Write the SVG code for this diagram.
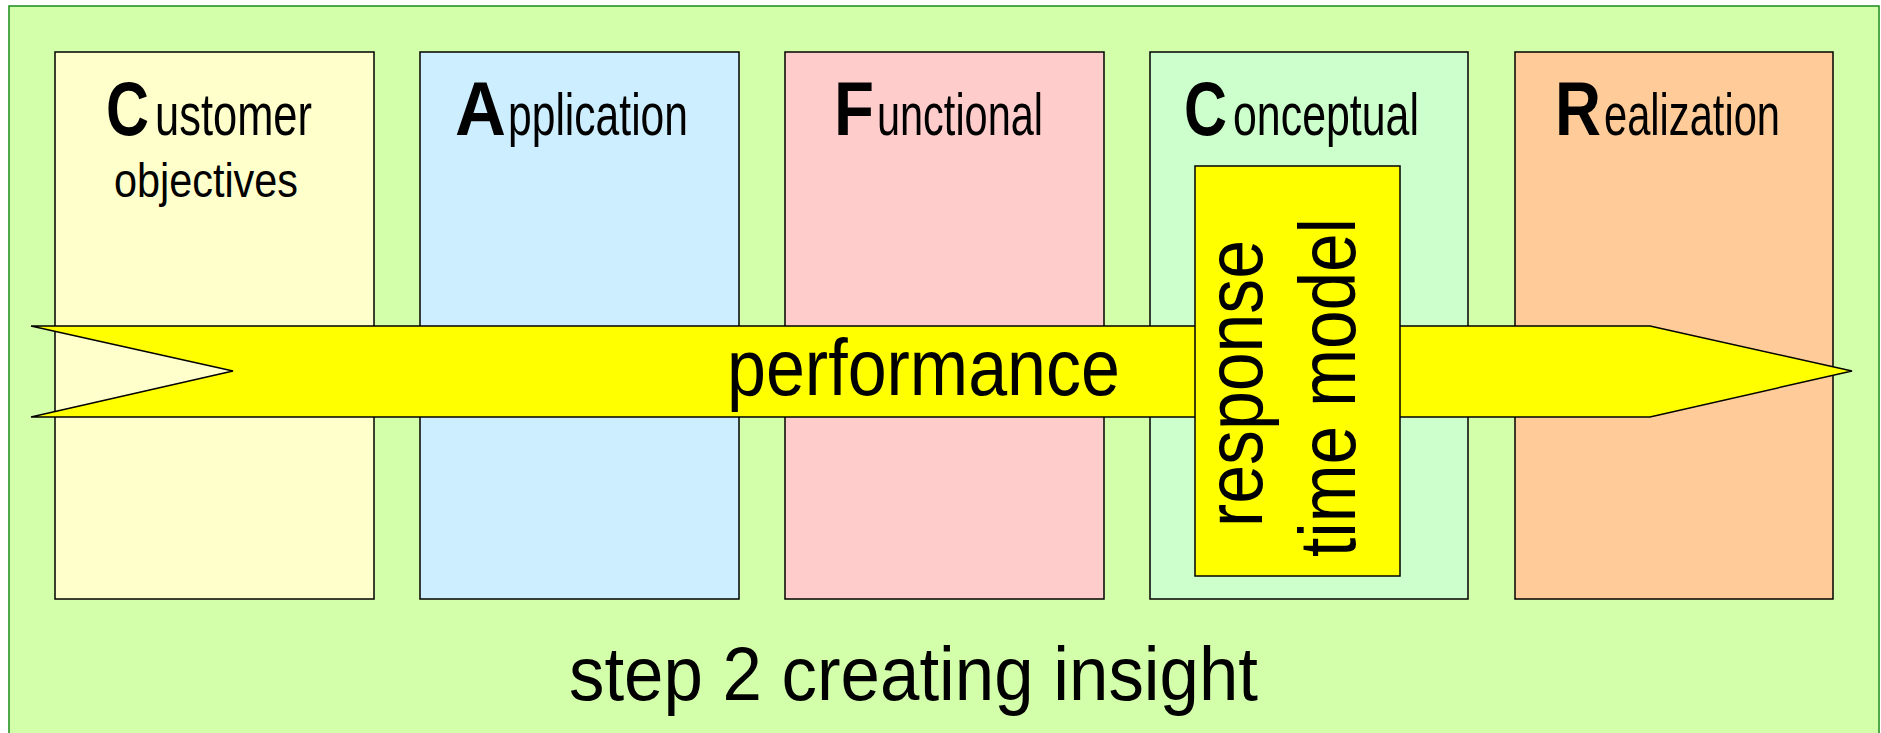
<svg xmlns="http://www.w3.org/2000/svg" width="1881" height="733" viewBox="0 0 1881 733">
<style>
text{font-family:"Liberation Sans",Arial,Helvetica,sans-serif;fill:#000}
.box{stroke:#000;stroke-width:1.5}
.cap{font-weight:bold;font-size:76px}
.low{font-size:59px}
.big{font-size:80px}
</style>
<g id="background">
<rect x="9" y="6" width="1870" height="740" fill="#d4ffaa" stroke="#1a8c1a" stroke-width="1.5"/>
</g>
<g id="customer">
<rect class="box" x="55" y="52" width="319" height="547" fill="#ffffcc"/>
<text class="cap" x="106" y="135" textLength="43" lengthAdjust="spacingAndGlyphs">C</text>
<text class="low" x="155" y="135" textLength="157" lengthAdjust="spacingAndGlyphs">ustomer</text>
<text x="114" y="197" font-size="48" textLength="184" lengthAdjust="spacingAndGlyphs">objectives</text>
</g>
<g id="application">
<rect class="box" x="420" y="52" width="319" height="547" fill="#cceeff"/>
<text class="cap" x="455" y="135" textLength="51" lengthAdjust="spacingAndGlyphs">A</text>
<text class="low" x="508" y="135" textLength="180" lengthAdjust="spacingAndGlyphs">pplication</text>
</g>
<g id="functional">
<rect class="box" x="785" y="52" width="319" height="547" fill="#ffcccc"/>
<text class="cap" x="834" y="135" textLength="40" lengthAdjust="spacingAndGlyphs">F</text>
<text class="low" x="877" y="135" textLength="166" lengthAdjust="spacingAndGlyphs">unctional</text>
</g>
<g id="conceptual">
<rect class="box" x="1150" y="52" width="318" height="547" fill="#ccffcc"/>
<text class="cap" x="1184" y="135" textLength="43" lengthAdjust="spacingAndGlyphs">C</text>
<text class="low" x="1233" y="135" textLength="186" lengthAdjust="spacingAndGlyphs">onceptual</text>
</g>
<g id="realization">
<rect class="box" x="1515" y="52" width="318" height="547" fill="#ffcc99"/>
<text class="cap" x="1555" y="135" textLength="46" lengthAdjust="spacingAndGlyphs">R</text>
<text class="low" x="1604" y="135" textLength="176" lengthAdjust="spacingAndGlyphs">ealization</text>
</g>
<g id="connectors">
<g id="performance">
<polygon points="31,326 1650,326 1852,371 1650,417 31,417 233,371" fill="#ffff00" stroke="#000" stroke-width="1.5" stroke-linejoin="miter"/>
<text class="big" x="727" y="395" textLength="393" lengthAdjust="spacingAndGlyphs">performance</text>
</g>
</g>
<g id="response-time-model">
<rect class="box" x="1195" y="166" width="205" height="410" fill="#ffff00"/>
<text class="big" transform="translate(1262,527) rotate(-90)" textLength="287" lengthAdjust="spacingAndGlyphs">response</text>
<text class="big" transform="translate(1355,557) rotate(-90)" textLength="339" lengthAdjust="spacingAndGlyphs">time model</text>
</g>
<g id="caption">
<text x="569" y="700" font-size="76" textLength="689" lengthAdjust="spacingAndGlyphs">step 2 creating insight</text>
</g>
</svg>
